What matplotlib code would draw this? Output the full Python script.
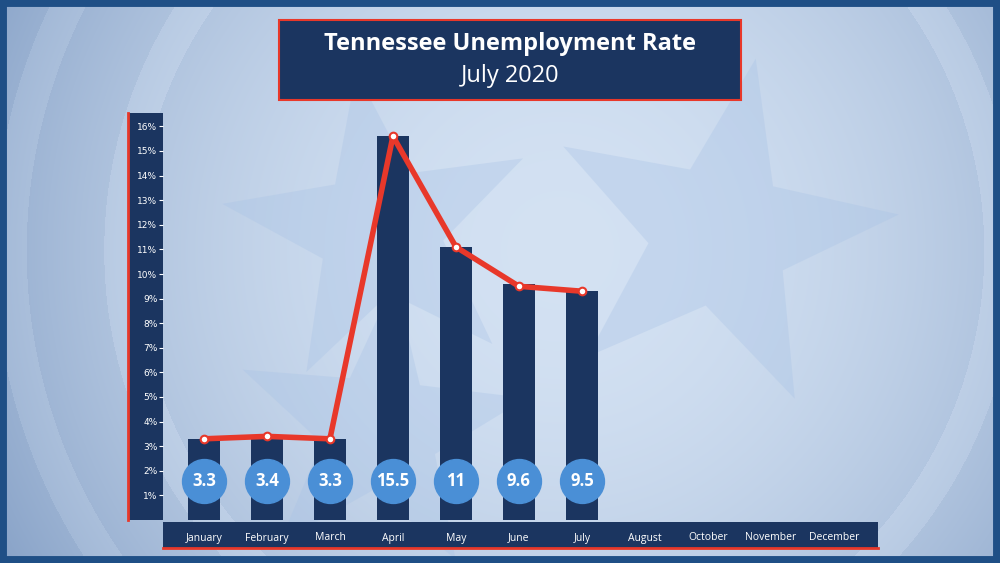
import numpy as np
import matplotlib
matplotlib.use("Agg")
import matplotlib.pyplot as plt
from matplotlib.patches import Rectangle, Polygon

months = ["January","February","March","April","May","June","July","August","October","November","December"]
bar_values = [3.3, 3.4, 3.3, 15.6, 11.1, 9.6, 9.3]
line_values = [3.3, 3.4, 3.3, 15.6, 11.1, 9.5, 9.3]
label_values = ["3.3","3.4","3.3","15.5","11","9.6","9.5"]
yticks = list(range(1, 17))

NAVY = "#1b3560"
RED = "#e8382a"
CIRC = "#4a8fd6"

fig = plt.figure(figsize=(10, 5.63), dpi=100)
bg = fig.add_axes([0, 0, 1, 1])
bg.set_xlim(0, 1000); bg.set_ylim(563, 0); bg.axis("off")
xx, yy = np.meshgrid(np.arange(1000), np.arange(563))
r = np.hypot(xx - 560, yy - 250)
base = np.clip(1 - (r / 650) ** 2, 0, 1)
ring = 0.07 * (np.cos(r / 55.0 * np.pi) > 0.6)
v = 0.45 + 0.5 * base + ring * (r > 380)
light = np.array([0.86, 0.91, 0.97]); dark = np.array([0.25, 0.40, 0.62])
t = np.clip(v, 0, 1)[..., None]
img = dark + (light - dark) * t
bg.imshow(img, extent=(0, 1000, 563, 0), zorder=0)

def star(cx, cy, R, rot, c):
    pts = []
    for i in range(10):
        rr = R if i % 2 == 0 else R * 0.4
        a = rot + i * np.pi / 5
        pts.append((cx + rr * np.sin(a), cy - rr * np.cos(a)))
    bg.add_patch(Polygon(pts, closed=True, color=c, alpha=0.35, zorder=1, lw=0))
star(720, 235, 180, 0.2, "#a9c3e6")
star(380, 230, 160, -0.15, "#a9c3e6")
star(380, 430, 150, 0.1, "#a9c3e6")

bg.add_patch(Rectangle((0, 0), 1000, 563, fill=False, ec="#1f4f86", lw=10, zorder=5))
bg.add_patch(Rectangle((279, 20), 462, 80, fc=NAVY, ec=RED, lw=1.5, zorder=5))
bg.text(510, 44, "Tennessee Unemployment Rate", color="white", fontsize=17, fontweight="bold",
        ha="center", va="center", family="Open Sans", zorder=6)
bg.text(510, 76, "July 2020", color="white", fontsize=17, ha="center", va="center",
        family="Open Sans", zorder=6)
bg.add_patch(Rectangle((128, 113), 35, 407, fc=NAVY, ec="none", zorder=5))
bg.plot([128, 128], [113, 520], color=RED, lw=2, zorder=6)
bg.add_patch(Rectangle((163, 522), 715, 26, fc=NAVY, ec="none", zorder=5))
bg.plot([163, 878], [548, 548], color=RED, lw=2, zorder=6)

ax = fig.add_axes([163 / 1000, 1 - 520 / 563, 715 / 1000, 405 / 563])
ax.patch.set_alpha(0)
ax.set_xlim(-0.65, 10.7)
ax.set_ylim(0, 405 / 24.6)
for s in ax.spines.values():
    s.set_visible(False)
x = np.arange(len(bar_values))
ax.bar(x, bar_values, width=0.5, color=NAVY, zorder=2)
ax.plot(x, line_values, color=RED, lw=4, zorder=3, solid_capstyle="round")
ax.scatter(x, line_values, s=30, color="white", edgecolor=RED, lw=1.5, zorder=4)
ax.scatter(x, [1.6] * len(x), s=1000, color=CIRC, zorder=5)
for xi, lab in zip(x, label_values):
    ax.text(xi, 1.6, lab, color="white", fontsize=12, fontweight="bold", ha="center",
            va="center", family="Open Sans", zorder=6)
ax.set_xticks(np.arange(len(months)))
ax.set_xticklabels(months, color="white", fontsize=7.5, family="Open Sans")
ax.tick_params(axis="x", length=0, pad=9)
ax.set_yticks(yticks)
ax.set_yticklabels([f"{v}%" for v in yticks], color="white", fontsize=6.5)
ax.tick_params(axis="y", length=3, color="white", direction="out", pad=1)
fig.savefig("out.png", dpi=100)
